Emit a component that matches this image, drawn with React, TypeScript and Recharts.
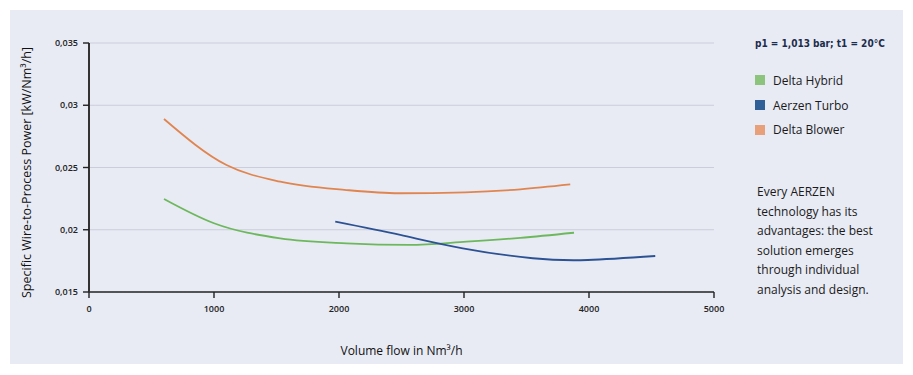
import React from 'react';
import { LineChart, Line, XAxis, YAxis, CartesianGrid, Label } from 'recharts';

const xTicks = [0, 1000, 2000, 3000, 4000, 5000];
const yTicks = [0.015, 0.02, 0.025, 0.03, 0.035];

const deltaBlower = [
  { x: 600, y: 0.0289 },
  { x: 1100, y: 0.0252 },
  { x: 1530, y: 0.02386 },
  { x: 2060, y: 0.02319 },
  { x: 2480, y: 0.02293 },
  { x: 3010, y: 0.02301 },
  { x: 3450, y: 0.02325 },
  { x: 3850, y: 0.02364 },
];

const deltaHybrid = [
  { x: 600, y: 0.02247 },
  { x: 1000, y: 0.02052 },
  { x: 1530, y: 0.01931 },
  { x: 2060, y: 0.01891 },
  { x: 2560, y: 0.01878 },
  { x: 3020, y: 0.01904 },
  { x: 3450, y: 0.01935 },
  { x: 3880, y: 0.01976 },
];

const aerzenTurbo = [
  { x: 1970, y: 0.02065 },
  { x: 2490, y: 0.01958 },
  { x: 2990, y: 0.01851 },
  { x: 3550, y: 0.01771 },
  { x: 3990, y: 0.01757 },
  { x: 4530, y: 0.01789 },
];

const legendItems = [
  { name: 'Delta Hybrid', color: '#8cc47e' },
  { name: 'Aerzen Turbo', color: '#2f5f96' },
  { name: 'Delta Blower', color: '#e8a07a' },
];

const noteLines = [
  'Every AERZEN',
  'technology has its',
  'advantages: the best',
  'solution emerges',
  'through individual',
  'analysis and design.',
];

const font = "'Open Sans', 'DejaVu Sans', sans-serif";
const yLabel = 'Specific Wire-to-Process Power [kW/Nm³/h]';

const YLabelContent = (props: any) => {
  const vb = props.viewBox || { x: 29, y: 43, width: 60, height: 249 };
  const cx = vb.x - 3;
  const cy = vb.y + vb.height / 2 + 5;
  return (
    <text
      x={cx}
      y={cy}
      transform={`rotate(-90, ${cx}, ${cy})`}
      textAnchor="middle"
      dominantBaseline="central"
      style={{ fontSize: 12.5, fill: '#111', fontFamily: font }}
    >
      {yLabel}
    </text>
  );
};

export default function App() {
  return (
    <div style={{ position: 'absolute', left: 0, top: 0, width: 913, height: 375, background: '#fff' }}>
      <div style={{ position: 'absolute', left: 10, top: 10, width: 893, height: 354, background: '#e8ebf4' }} />
      <div style={{ position: 'absolute', left: 0, top: 0 }}>
        <LineChart width={913} height={375} margin={{ top: 43, right: 199, bottom: 43, left: 29 }}>
          <CartesianGrid vertical={false} stroke="#cbcedA" strokeWidth={1.2} horizontalValues={[0.02, 0.025, 0.03, 0.035]} />
          <XAxis
            type="number"
            dataKey="x"
            domain={[0, 5000]}
            ticks={xTicks}
            height={40}
            axisLine={{ stroke: '#222', strokeWidth: 1.6 }}
            tickLine={{ stroke: '#222', strokeWidth: 1.4 }}
            tickSize={6}
            tick={{ fontSize: 9, fill: '#222', fontFamily: font, fontWeight: 600 }}
            tickMargin={8}
          >
            <Label value="Volume flow in Nm³/h" position="bottom" offset={14} style={{ fontSize: 12, fill: '#111', fontFamily: font }} />
          </XAxis>
          <YAxis
            type="number"
            domain={[0.015, 0.035]}
            ticks={yTicks}
            width={60}
            axisLine={{ stroke: '#333', strokeWidth: 2 }}
            tickLine={{ stroke: '#222', strokeWidth: 1.4 }}
            tickSize={6}
            tickMargin={5}
            tick={{ fontSize: 9, fill: '#222', fontFamily: font, fontWeight: 600 }}
            tickFormatter={(v: number) => String(v).replace('.', ',')}
          >
            <Label content={<YLabelContent />} position="insideLeft" />
          </YAxis>
          <Line data={deltaBlower} dataKey="y" type="monotone" stroke="#e0854f" strokeWidth={1.8} dot={false} isAnimationActive={false} name="Delta Blower" />
          <Line data={deltaHybrid} dataKey="y" type="monotone" stroke="#6db85c" strokeWidth={1.8} dot={false} isAnimationActive={false} name="Delta Hybrid" />
          <Line data={aerzenTurbo} dataKey="y" type="natural" stroke="#2c5294" strokeWidth={1.8} dot={false} isAnimationActive={false} name="Aerzen Turbo" />
        </LineChart>
      </div>
      <div style={{ position: 'absolute', left: 755, top: 34, fontFamily: font }}>
        <div
          style={{
            fontFamily: "'DejaVu Sans Condensed', 'Liberation Sans Narrow', sans-serif",
            fontWeight: 700,
            fontSize: 10,
            color: '#1d2c4c',
            height: 20,
            lineHeight: '20px',
          }}
        >
          p1 = 1,013 bar; t1 = 20°C
        </div>
        <div style={{ height: 14 }} />
        {legendItems.map((it) => (
          <div key={it.name} style={{ display: 'flex', alignItems: 'center', height: 24.7 }}>
            <div style={{ width: 10, height: 10, background: it.color, marginRight: 8 }} />
            <span style={{ fontSize: 12, color: '#1a1a1a' }}>{it.name}</span>
          </div>
        ))}
      </div>
      <div
        style={{
          position: 'absolute',
          left: 757,
          top: 182,
          fontFamily: font,
          fontSize: 12,
          lineHeight: '19.5px',
          color: '#1a1a1a',
        }}
      >
        {noteLines.map((l) => (
          <div key={l}>{l}</div>
        ))}
      </div>
    </div>
  );
}
